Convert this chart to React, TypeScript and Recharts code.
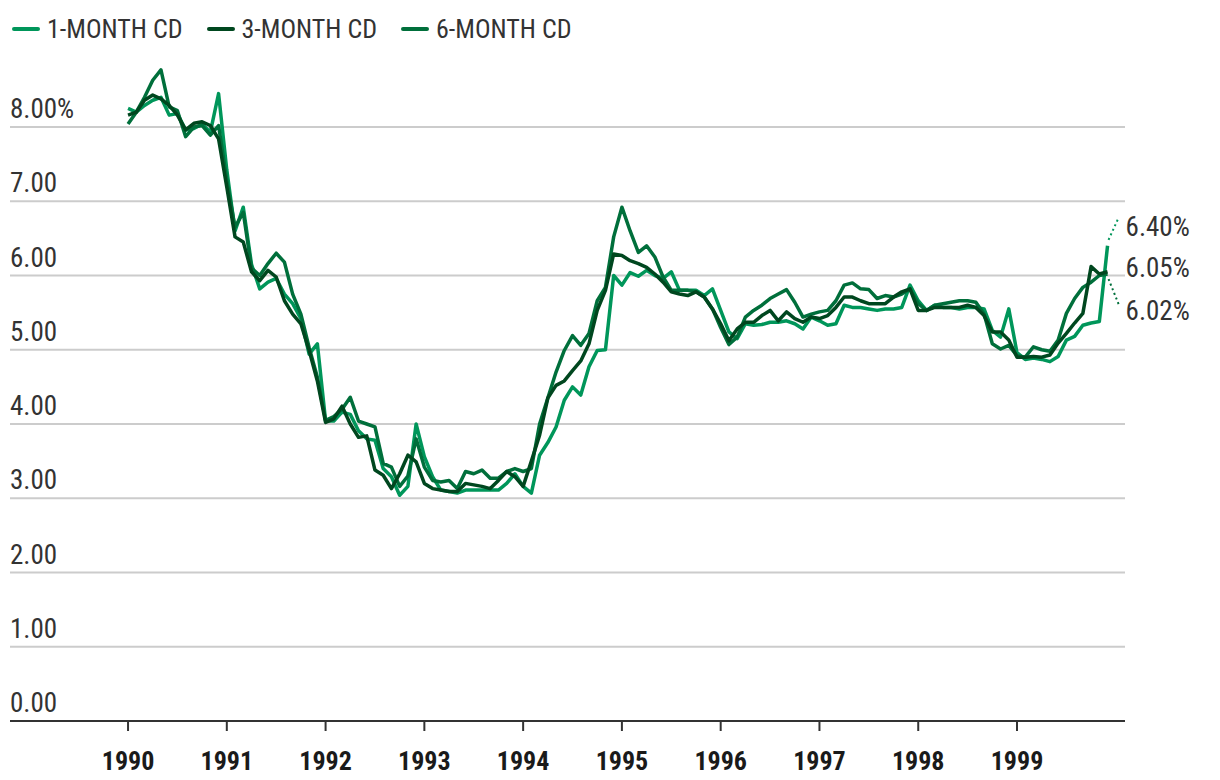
import React from 'react';
import { LineChart, Line, XAxis, YAxis, CartesianGrid } from 'recharts';

// monthly rates, Jan 1990 - Dec 1999
const startYear = 1990;
const yearTicks = [1990, 1991, 1992, 1993, 1994, 1995, 1996, 1997, 1998, 1999];
const yTicks = [0, 1, 2, 3, 4, 5, 6, 7, 8];

const oneMonth = [
  8.25, 8.2, 8.29, 8.36, 8.4, 8.16, 8.18, 7.96, 7.98, 8.04, 7.93, 8.45,
  7.42, 6.6, 6.92, 6.15, 5.82, 5.91, 5.96, 5.75, 5.62, 5.42, 4.94, 5.08,
  4.04, 4.04, 4.16, 4.13, 3.91, 3.8, 3.78, 3.4, 3.29, 3.04, 3.16, 4.0,
  3.56, 3.29, 3.11, 3.09, 3.07, 3.11, 3.11, 3.11, 3.11, 3.11, 3.2, 3.33,
  3.16, 3.07, 3.58, 3.75, 3.96, 4.32, 4.5, 4.39, 4.77, 4.99, 5.0, 6.0,
  5.87, 6.04, 5.99, 6.07, 6.0, 5.96, 6.05, 5.8, 5.8, 5.8, 5.73, 5.82,
  5.53, 5.24, 5.15, 5.35, 5.33, 5.34, 5.37, 5.37, 5.39, 5.35, 5.28, 5.44,
  5.39, 5.33, 5.35, 5.6, 5.57, 5.57, 5.55, 5.53, 5.55, 5.55, 5.57, 5.87,
  5.66, 5.53, 5.6, 5.57, 5.57, 5.55, 5.57, 5.57, 5.55, 5.26, 5.17, 5.55,
  4.96, 4.87, 4.89, 4.87, 4.84, 4.91, 5.13, 5.18, 5.33, 5.36, 5.38, 6.4,
];

const threeMonth = [
  8.16, 8.2, 8.36, 8.43, 8.38, 8.29, 8.16, 7.96, 8.05, 8.07, 8.02, 7.84,
  7.19, 6.52, 6.45, 6.05, 5.93, 6.07, 5.98, 5.66, 5.48, 5.35, 4.99, 4.58,
  4.02, 4.07, 4.24, 4.0, 3.82, 3.84, 3.38, 3.31, 3.13, 3.33, 3.58, 3.49,
  3.2, 3.13, 3.11, 3.09, 3.09, 3.2, 3.18, 3.16, 3.13, 3.24, 3.36, 3.29,
  3.16, 3.5, 3.85, 4.35, 4.52, 4.58, 4.72, 4.85, 5.08, 5.53, 5.8, 6.29,
  6.27, 6.2, 6.16, 6.11, 6.02, 5.91, 5.78, 5.75, 5.73, 5.78, 5.71, 5.55,
  5.35, 5.12, 5.28, 5.37, 5.37, 5.46, 5.53, 5.39, 5.51, 5.42, 5.37, 5.44,
  5.42, 5.46, 5.57, 5.71, 5.71, 5.66, 5.62, 5.62, 5.62, 5.71, 5.78, 5.82,
  5.53, 5.53, 5.57, 5.57, 5.57, 5.57, 5.6, 5.57, 5.46, 5.24, 5.24, 5.13,
  4.9, 4.9, 4.91, 4.9, 4.93, 5.09, 5.22, 5.36, 5.49, 6.12, 6.02, 6.05,
];

const sixMonth = [
  8.04, 8.2, 8.4, 8.63, 8.77, 8.27, 8.22, 7.87, 8.0, 8.02, 7.89, 8.02,
  7.28, 6.65, 6.85, 6.1, 6.0, 6.16, 6.3, 6.18, 5.75, 5.48, 5.03, 4.63,
  4.05, 4.1, 4.2, 4.36, 4.04, 4.0, 3.96, 3.47, 3.42, 3.16, 3.3, 3.8,
  3.42, 3.24, 3.22, 3.24, 3.13, 3.36, 3.33, 3.38, 3.27, 3.27, 3.36, 3.4,
  3.36, 3.4, 4.0, 4.35, 4.7, 4.99, 5.19, 5.06, 5.22, 5.66, 5.84, 6.52,
  6.92, 6.6, 6.31, 6.4, 6.25, 5.98, 5.8, 5.8, 5.8, 5.78, 5.71, 5.55,
  5.3, 5.07, 5.17, 5.44, 5.53, 5.6, 5.69, 5.75, 5.81, 5.64, 5.44, 5.48,
  5.51, 5.53, 5.66, 5.87, 5.9, 5.82, 5.81, 5.69, 5.73, 5.71, 5.75, 5.82,
  5.62, 5.53, 5.6, 5.62, 5.64, 5.66, 5.66, 5.64, 5.48, 5.08, 5.01, 5.06,
  4.92, 4.9, 5.04, 5.0, 4.98, 5.13, 5.49, 5.69, 5.84, 5.91, 6.0, 6.02,
];

const data = oneMonth.map((v, i) => ({ t: i, m1: v, m3: threeMonth[i], m6: sixMonth[i] }));

const FONT = "'Liberation Sans Narrow', 'Roboto Condensed', 'DejaVu Sans Condensed', Roboto, sans-serif";

const series = [
  { key: 'm1', name: '1-MONTH CD', color: '#00965a' },
  { key: 'm3', name: '3-MONTH CD', color: '#00471f' },
  { key: 'm6', name: '6-MONTH CD', color: '#006f3b' },
];

const last = oneMonth.length - 1;

// label on the last point; optional dotted leader
const endLabel = (dy: number, color: string, lead: number[] | null) => (props: any) => {
  const { x, y, index, value } = props;
  if (index !== last) return null;
  return (
    <g>
      {lead && (
        <line x1={x + lead[0]} y1={y + lead[1]} x2={x + lead[2]} y2={y + lead[3]}
          stroke={color} strokeWidth={2} strokeDasharray="2 3" />
      )}
      <text x={x + 18} y={y + dy} fill="#333" fontSize={27} fontFamily={FONT}>
        {Number(value).toFixed(2)}%
      </text>
    </g>
  );
};

const YTick = (props: any) => {
  const { y, payload } = props;
  const label = payload.value === 8 ? '8.00%' : payload.value.toFixed(2);
  return (
    <text x={2} y={y - 9} fill="#333" fontSize={27} fontFamily={FONT} textAnchor="start">
      {label}
    </text>
  );
};

const XTick = (props: any) => {
  const { x, y, payload } = props;
  return (
    <text x={x} y={y + 37} fill="#1a1a1a" fontSize={26} fontWeight="bold" fontFamily={FONT} textAnchor="middle">
      {startYear + payload.value / 12}
    </text>
  );
};

const App: React.FC = () => {
  return (
    <div style={{ position: 'relative', width: 1204, height: 770 }}>
      <div style={{ position: 'absolute', left: 4, top: 6, display: 'flex', fontFamily: FONT, fontSize: 26, color: '#333' }}>
        {series.map((s) => (
          <div key={s.key} style={{ display: 'flex', alignItems: 'center', marginRight: 24 }}>
            <span style={{ display: 'inline-block', width: 28, height: 4, borderRadius: 2, background: s.color, marginRight: 7 }} />
            <span>{s.name}</span>
          </div>
        ))}
      </div>
      <LineChart width={1204} height={770} data={data} margin={{ top: 44.75, right: 87, bottom: 0, left: 1 }}>
        <CartesianGrid vertical={false} stroke="#cccccc" strokeWidth={2} horizontalValues={yTicks} />
        <XAxis
          type="number"
          dataKey="t"
          domain={[-14.34, 121.12]}
          allowDataOverflow
          ticks={yearTicks.map((yr) => (yr - startYear) * 12)}
          height={57}
          axisLine={{ stroke: '#333', strokeWidth: 2 }}
          tickLine={{ stroke: '#333', strokeWidth: 2 }}
          tickSize={10}
          tick={<XTick />}
          interval={0}
        />
        <YAxis
          type="number"
          domain={[0, 9]}
          ticks={yTicks}
          width={1}
          axisLine={false}
          tickLine={false}
          tick={<YTick />}
          interval={0}
        />
        <Line dataKey="m1" stroke="#00965a" strokeWidth={3.5} dot={false} isAnimationActive={false}
          strokeLinejoin="round" label={endLabel(-10, '#00965a', [1, -6, 11, -28])} />
        <Line dataKey="m6" stroke="#006f3b" strokeWidth={3.5} dot={false} isAnimationActive={false}
          strokeLinejoin="round" label={endLabel(46, '#006f3b', [1, 5, 11, 30])} />
        <Line dataKey="m3" stroke="#00471f" strokeWidth={3.5} dot={false} isAnimationActive={false}
          strokeLinejoin="round" label={endLabel(5, '#00471f', null)} />
      </LineChart>
    </div>
  );
};

export default App;
